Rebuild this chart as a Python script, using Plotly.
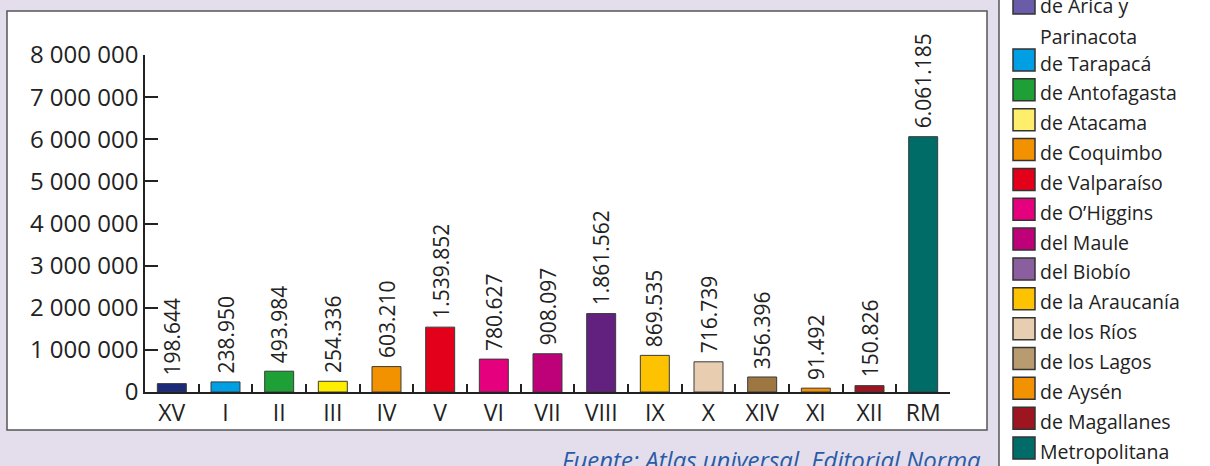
import plotly.graph_objects as go

# ---------------- data ----------------
categories = ["XV", "I", "II", "III", "IV", "V", "VI", "VII", "VIII", "IX", "X", "XIV", "XI", "XII", "RM"]
population = [198644, 238950, 493984, 254336, 603210, 1539852, 780627, 908097,
              1861562, 869535, 716739, 356396, 91492, 150826, 6061185]
bar_colors = ["#1B2A7A", "#009FE3", "#1FA037", "#FFED00", "#F39200", "#E2001A", "#E5007E",
              "#BE0079", "#62217F", "#FDC300", "#E9CDB0", "#9E7642", "#F39200", "#9C1520", "#006C68"]
legend_labels = ["de Arica y", "Parinacota", "de Tarapacá", "de Antofagasta", "de Atacama",
                 "de Coquimbo", "de Valparaíso", "de O’Higgins", "del Maule", "del Biobío",
                 "de la Araucanía", "de los Ríos", "de los Lagos", "de Aysén",
                 "de Magallanes", "Metropolitana"]
legend_colors = ["#6A5CA8", None, "#009FE3", "#1FA037", "#FFEE6B", "#F39200", "#E2001A",
                 "#E5007E", "#BE0079", "#8B5EA0", "#FDC300", "#E9CDB0", "#B89B70",
                 "#F39200", "#9C1520", "#006C68"]
y_ticks = [0, 1000000, 2000000, 3000000, 4000000, 5000000, 6000000, 7000000, 8000000]
source_text = "Fuente: Atlas universal, Editorial Norma"

# ---------------- layout geometry (pixels) ----------------
W, H = 1210, 466
L, R, T, B = 145, 260, 55, 74
PW, PH = W - L - R, H - T - B


def px(xp):
    return (xp - L) / PW


def py(yp):
    return (H - B - yp) / PH


FONT = "Open Sans"
TXT = "#222222"

fig = go.Figure()
fig.add_trace(go.Bar(
    x=categories, y=population, width=0.54,
    marker=dict(color=bar_colors, line=dict(color="#3a3a3a", width=1)),
    hoverinfo="x+y", showlegend=False,
))

shapes = []
annotations = []

# white chart panel
shapes.append(dict(type="rect", xref="paper", yref="paper", layer="below",
                   x0=px(7), x1=px(987), y0=py(430), y1=py(11),
                   fillcolor="white", line=dict(color="#555555", width=1.5)))
# white legend panel
shapes.append(dict(type="rect", xref="paper", yref="paper", layer="below",
                   x0=px(999), x1=px(1215), y0=py(470), y1=py(-5),
                   fillcolor="white", line=dict(color="#555555", width=1.5)))

# value labels above bars
for c, v in zip(categories, population):
    annotations.append(dict(x=c, y=v, xref="x", yref="y", showarrow=False,
                            text=f"{v:,}".replace(",", "."), textangle=-90,
                            yanchor="bottom", xanchor="center", yshift=6,
                            font=dict(family=FONT, size=21, color=TXT)))

# legend
row_centers = [3, 34] + [60 + i * 29.85 for i in range(14)]
for lab, col, yc in zip(legend_labels, legend_colors, row_centers):
    if col is not None:
        shapes.append(dict(type="rect", xref="paper", yref="paper",
                           x0=px(1013), x1=px(1035), y0=py(yc + 11), y1=py(yc - 11),
                           fillcolor=col, line=dict(color="#333333", width=1.5)))
    annotations.append(dict(x=px(1038), y=py(yc + 3), xref="paper", yref="paper",
                            text=lab, showarrow=False, xanchor="left", yanchor="middle",
                            font=dict(family=FONT, size=19.5, color=TXT)))

# source note
annotations.append(dict(x=px(983), y=py(441), xref="paper", yref="paper",
                        text=source_text, showarrow=False, xanchor="right", yanchor="top",
                        font=dict(family=FONT, size=24, color="#2A5BA6", style="italic")))

fig.update_layout(
    template="none",
    width=W, height=H,
    margin=dict(l=L, r=R, t=T, b=B, pad=0),
    paper_bgcolor="#E4DEEC", plot_bgcolor="white",
    separators=". ",
    font=dict(family=FONT, color=TXT),
    showlegend=False,
    shapes=shapes, annotations=annotations,
    xaxis=dict(type="category", range=[-0.5, 14.5], showgrid=False, zeroline=False,
               showline=True, linecolor=TXT, linewidth=1.5,
               ticks="inside", tickson="boundaries", ticklen=8, tickwidth=1.5, tickcolor=TXT,
               tickfont=dict(family=FONT, size=23, color=TXT), automargin=False,
               fixedrange=True),
    yaxis=dict(range=[0, 8000000], tickvals=y_ticks, tickformat=",d",
               showgrid=False, zeroline=False,
               showline=True, linecolor=TXT, linewidth=1.5,
               ticks="inside", ticklen=13, tickwidth=1.5, tickcolor=TXT,
               tickfont=dict(family=FONT, size=24, color=TXT), automargin=False,
               fixedrange=True),
)

fig.write_html("out.html", config={"displayModeBar": False},
               post_script="document.body.style.margin='0';document.body.style.overflow='hidden';")
